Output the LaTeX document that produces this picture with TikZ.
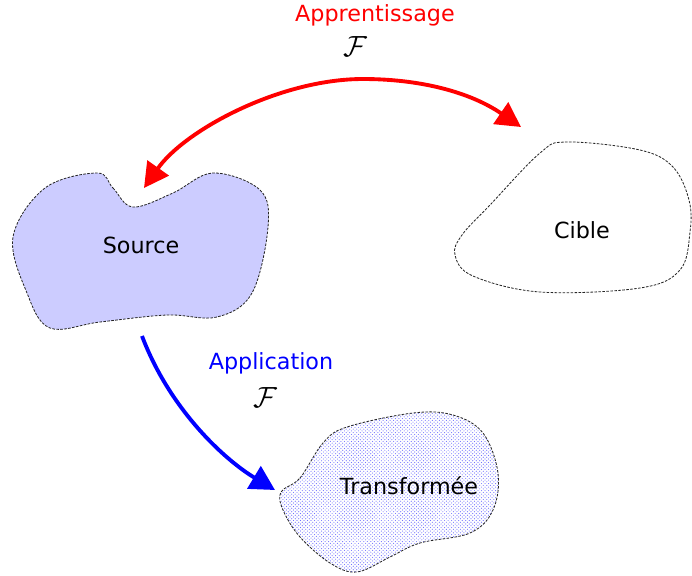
\documentclass[tikz,border=0pt]{standalone}
\usepackage{amsmath}
\usepackage{fontspec}
\setmainfont{DejaVu Sans}
\usetikzlibrary{arrows.meta,patterns}
\definecolor{lavande}{RGB}{204,204,255}
\tikzset{
  blob/.style={draw=black!85,line width=0.7pt,dash pattern=on 2.2pt off 1.2pt},
  pointe/.tip={Triangle[length=21pt,width=22pt]},
  fleche/.style={line width=3.3pt,-pointe},
  etiq/.style={font=\fontsize{19}{23}\selectfont},
  lettre/.style={font=\fontsize{27}{30}\selectfont},
}
\begin{document}
\begin{tikzpicture}[x=0.03cm,y=-0.03cm]
\useasboundingbox (0,0) rectangle (692,575);

% Source
\draw[blob,fill=lavande] plot[smooth cycle,tension=0.6] coordinates
  {(97,173) (113,188) (133,207) (173,193) (213,173) (260,190) (268,227)
   (252,293) (217,317) (167,315) (100,322) (50,328) (27,293) (13,237) (45,188)};
\node[etiq] (source) at (141,245) {Source};

% Cible
\draw[blob] plot[smooth cycle,tension=0.6] coordinates
  {(567,142) (640,150) (673,167) (689,200) (690,232) (680,270) (640,288)
   (540,292) (473,276) (455,255) (462,235) (490,205) (540,153)};
\node[etiq] (cible) at (582,230) {Cible};

% Transformee
\draw[blob,fill=lavande!35,pattern=crosshatch dots,pattern color=blue!55] plot[smooth cycle,tension=0.6] coordinates
  {(281,492) (300,478) (323,443) (347,427) (413,413) (453,415) (483,433)
   (498,473) (493,510) (470,533) (420,543) (390,557) (357,572) (330,563)
   (300,537) (283,510)};
\node[etiq] (transf) at (409,486) {Transformée};

% apprentissage
\coordinate (a1) at (144,188);
\coordinate (haut) at (363,79);
\coordinate (a2) at (521,127);
\draw[fleche,red,pointe-pointe] (a1) .. controls (185,130) and (280,79) .. (haut)
  .. controls (420,79) and (470,92) .. (a2);
\node[etiq,red] (appr) at (375,15) {Apprentissage};
\node[lettre] (fa) at (355,47) {$\mathcal{F}$};

% application
\coordinate (b1) at (142,336);
\coordinate (b2) at (275,490);
\draw[fleche,blue] (b1) .. controls (170,410) and (225,460) .. (b2);
\node[etiq,blue] (appl) at (271,363) {Application};
\node[lettre] (fb) at (265,398) {$\mathcal{F}$};
\end{tikzpicture}
\end{document}
